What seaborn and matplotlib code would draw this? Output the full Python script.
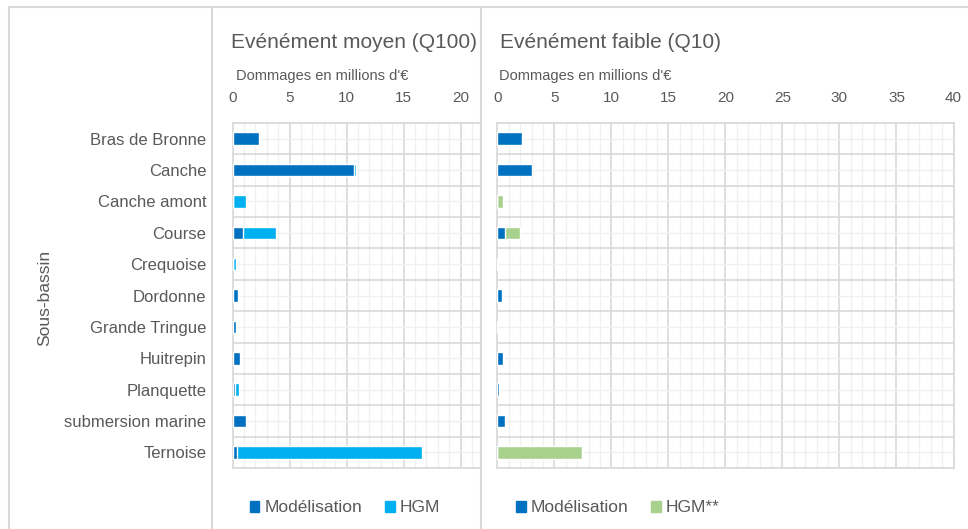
import matplotlib
matplotlib.use('Agg')
import matplotlib.pyplot as plt
import numpy as np
import pandas as pd
import seaborn as sns
from matplotlib.lines import Line2D
from matplotlib.patches import Patch

# Data (millions d'EUR)
bassins = ["Bras de Bronne", "Canche", "Canche amont", "Course", "Crequoise",
           "Dordonne", "Grande Tringue", "Huitrepin", "Planquette",
           "submersion marine", "Ternoise"]
q100_modelisation = [2.3, 10.65, 0.0, 0.9, 0.05, 0.45, 0.25, 0.67, 0.2, 1.15, 0.35]
q100_hgm = [0.0, 0.15, 1.14, 2.9, 0.2, 0.07, 0.0, 0.08, 0.32, 0.0, 16.3]
q10_modelisation = [2.2, 3.0, 0.0, 0.67, 0.0, 0.42, 0.0, 0.5, 0.15, 0.67, 0.0]
q10_hgm = [0.08, 0.08, 0.5, 1.35, 0.08, 0.06, 0.0, 0.05, 0.1, 0.0, 7.4]

C_MOD = '#0070C0'
C_HGM = '#00B0F0'
C_HGM2 = '#A9D18E'
TXT = '#595959'
GRID_MAJ = '#D9D9D9'
GRID_MIN = '#F0F0F0'

sns.set_theme(style='white')
plt.rcParams['font.family'] = ['Liberation Sans', 'DejaVu Sans']

df = pd.DataFrame({
    'bassin': bassins,
    'q100_mod': q100_modelisation,
    'q100_tot': np.array(q100_modelisation) + np.array(q100_hgm),
    'q10_mod': q10_modelisation,
    'q10_tot': np.array(q10_modelisation) + np.array(q10_hgm),
})

W, H = 968, 529
fig = plt.figure(figsize=(W / 100, H / 100), dpi=100)


def axes_px(x0, y0, x1, y1):
    return fig.add_axes([x0 / W, 1 - y1 / H, (x1 - x0) / W, (y1 - y0) / H])


ax1 = axes_px(232.7, 123, 480, 468)
ax2 = axes_px(497.3, 123, 953.5, 468)


def draw_panel(ax, tot_col, mod_col, hgm_color, xmax, xticks):
    # stacked bars: total first (HGM colour), then Modélisation on top
    sns.barplot(data=df, y='bassin', x=tot_col, color=hgm_color, width=0.4,
                saturation=1, ax=ax, orient='h', zorder=3)
    sns.barplot(data=df, y='bassin', x=mod_col, color=C_MOD, width=0.4,
                saturation=1, ax=ax, orient='h', zorder=3)
    ax.set_xlim(0, xmax)
    ax.set_ylim(10.5, -0.5)
    ax.set_xticks(xticks)
    ax.set_xticks(np.arange(0, xmax + 0.01, 1), minor=True)
    ax.set_yticks(np.arange(-0.5, 11, 1), minor=True)
    ax.xaxis.tick_top()
    ax.tick_params(axis='x', which='both', length=0, pad=13, labelsize=11,
                   labelcolor=TXT)
    ax.tick_params(axis='y', which='both', length=0)
    ax.grid(True, which='major', axis='x', color=GRID_MAJ, lw=1.2, zorder=0)
    ax.grid(True, which='minor', axis='x', color=GRID_MIN, lw=1.0, zorder=0)
    ax.grid(True, which='minor', axis='y', color=GRID_MAJ, lw=1.2, zorder=0)
    ax.grid(True, which='major', axis='y', color=GRID_MIN, lw=1.0, zorder=0)
    ax.set_axisbelow(True)
    ax.set_xlabel('')
    ax.set_ylabel('')
    for s in ax.spines.values():
        s.set_color(GRID_MAJ)
        s.set_linewidth(1.2)


draw_panel(ax1, 'q100_tot', 'q100_mod', C_HGM, 21.7, [0, 5, 10, 15, 20])
ax1.spines['right'].set_visible(False)
ax1.tick_params(axis='y', labelsize=12, labelcolor=TXT, pad=19)

draw_panel(ax2, 'q10_tot', 'q10_mod', C_HGM2, 40, np.arange(0, 41, 5))
ax2.set_yticklabels([])

# Titles and axis captions
fig.text(231 / W, 1 - 42 / H, "Evénément moyen (Q100)", fontsize=15,
         color=TXT, va='center', ha='left')
fig.text(500 / W, 1 - 42 / H, "Evénément faible (Q10)", fontsize=15,
         color=TXT, va='center', ha='left')
fig.text(236 / W, 1 - 76 / H, "Dommages en millions d'€", fontsize=10.5,
         color=TXT, va='center', ha='left')
fig.text(499 / W, 1 - 76 / H, "Dommages en millions d'€", fontsize=10.5,
         color=TXT, va='center', ha='left')
fig.text(45 / W, 1 - 298 / H, "Sous-bassin", fontsize=12.5, color=TXT,
         rotation=90, va='center', ha='center')

# Legends
leg_kw = dict(frameon=False, ncol=2, fontsize=12.5, handlelength=0.55,
              handleheight=0.55, handletextpad=0.3, columnspacing=1.3,
              labelcolor=TXT, loc='center')
fig.legend(handles=[Patch(color=C_MOD, label='Modélisation'),
                    Patch(color=C_HGM, label='HGM')],
           bbox_to_anchor=(345 / W, 1 - 508 / H), **leg_kw)
fig.legend(handles=[Patch(color=C_MOD, label='Modélisation'),
                    Patch(color=C_HGM2, label='HGM**')],
           bbox_to_anchor=(618 / W, 1 - 508 / H), **leg_kw)

# Outer frame lines of the pasted panels
for xs, ys in [((9, W), (7, 7)), ((9, 9), (7, H)), ((212, 212), (7, H)),
               ((481, 481), (7, H))]:
    fig.add_artist(Line2D([x / W for x in xs], [1 - y / H for y in ys],
                          color='#D9D9D9', lw=1.5))

fig.savefig('out.png', dpi=100)
